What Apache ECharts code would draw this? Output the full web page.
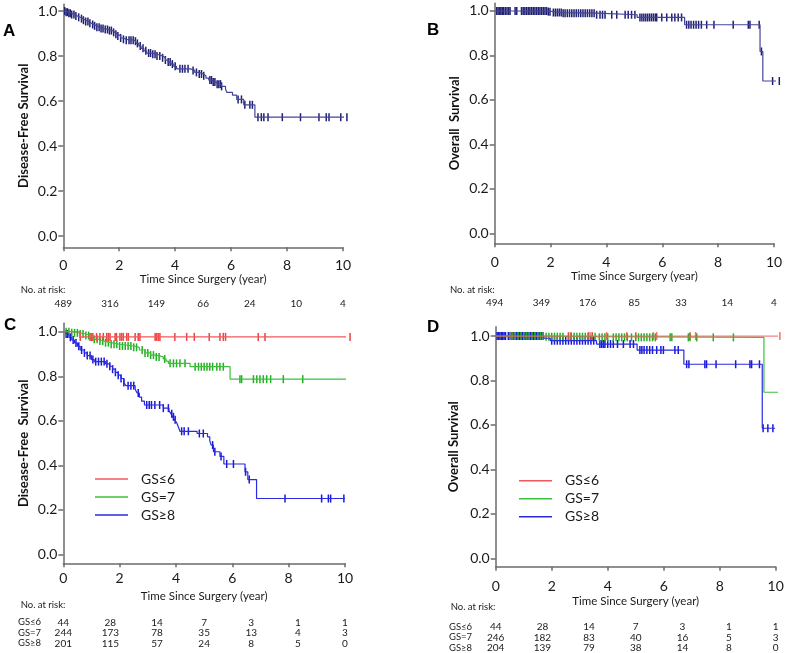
<!DOCTYPE html>
<html><head><meta charset="utf-8">
<script src="https://cdn.jsdelivr.net/npm/echarts@6/dist/echarts.min.js"></script>
<style>html,body{margin:0;padding:0;background:#fff}#c{width:800px;height:653px}</style>
</head><body><div id="c"></div>
<script>
// ---------- data ----------
const xTicks = [0, 2, 4, 6, 8, 10];
const yTicks = [0, 0.2, 0.4, 0.6, 0.8, 1.0];
const atRiskTimes = [0, 1.67, 3.33, 5, 6.67, 8.33, 10];
const groupNames = ['GS≤6', 'GS=7', 'GS≥8'];

// Panel A: Disease-free survival, all patients
const aSteps = [[0,1],[0.1,0.995],[0.2,0.99],[0.3,0.984],[0.4,0.978],[0.5,0.972],[0.6,0.966],[0.7,0.959],[0.8,0.953],[0.9,0.946],[1.0,0.94],[1.1,0.934],[1.2,0.928],[1.3,0.922],[1.45,0.918],[1.6,0.913],[1.75,0.905],[1.85,0.897],[1.95,0.889],[2.05,0.88],[2.15,0.874],[2.25,0.87],[2.55,0.866],[2.62,0.856],[2.7,0.845],[2.78,0.834],[2.88,0.823],[2.98,0.813],[3.15,0.808],[3.35,0.8],[3.55,0.792],[3.65,0.782],[3.75,0.773],[3.85,0.764],[3.95,0.754],[4.05,0.743],[4.55,0.736],[4.7,0.727],[4.85,0.72],[5.0,0.712],[5.1,0.702],[5.2,0.693],[5.35,0.684],[5.5,0.675],[5.65,0.665],[5.8,0.652],[5.85,0.638],[6.05,0.626],[6.2,0.607],[6.45,0.583],[6.85,0.528],[10.8,0.528]];
const aCensor = [0.05,0.1,0.15,0.2,0.25,0.3,0.38,0.45,0.55,0.65,0.72,0.8,0.88,0.95,1.05,1.12,1.2,1.28,1.35,1.42,1.5,1.58,1.65,1.72,1.8,1.88,1.95,2.05,2.15,2.25,2.35,2.42,2.5,2.58,2.65,2.75,2.85,2.95,3.05,3.12,3.2,3.28,3.35,3.45,3.55,3.65,3.75,3.82,3.9,4.0,4.17,4.26,4.35,4.46,4.64,4.76,4.86,4.94,5.02,5.24,5.3,5.36,5.42,5.5,5.56,5.62,5.66,6.25,6.37,6.49,6.67,6.76,6.96,7.08,7.17,7.32,7.83,8.48,9.14,9.4,9.5,9.92,10.14];
const aAtRisk = [489, 316, 149, 66, 24, 10, 4];

// Panel B: Overall survival, all patients
const bSteps = [[0,1],[1.9,0.997],[2.1,0.993],[2.4,0.99],[3.65,0.983],[5.1,0.971],[6.8,0.938],[9.5,0.818],[9.6,0.685],[10.75,0.685]];
const bCensor = [0.07,0.12,0.17,0.22,0.27,0.32,0.38,0.44,0.5,0.55,0.73,0.79,0.96,1.02,1.08,1.14,1.2,1.26,1.32,1.38,1.44,1.5,1.56,1.62,1.68,1.74,1.8,1.86,1.92,1.98,2.1,2.17,2.24,2.31,2.38,2.45,2.52,2.6,2.68,2.76,2.84,2.92,3.0,3.08,3.16,3.24,3.32,3.4,3.48,3.56,3.65,3.77,3.86,3.95,4.19,4.37,4.67,4.78,4.9,5.02,5.2,5.27,5.34,5.41,5.48,5.55,5.62,5.69,5.76,5.8,5.98,6.16,6.34,6.45,6.57,6.69,6.87,6.95,7.03,7.12,7.21,7.3,7.4,7.59,7.85,8.54,9.08,9.14,9.47,9.55,9.95,10.19];
const bAtRisk = [494, 349, 176, 85, 33, 14, 4];

// Panel C: Disease-free survival by Gleason score
const cSteps = [
  [[0,1],[0.6,0.977],[10.24,0.977]],
  [[0,1],[0.3,0.995],[0.6,0.99],[0.8,0.983],[0.95,0.976],[1.1,0.966],[1.25,0.958],[1.45,0.951],[1.7,0.944],[2.0,0.936],[2.5,0.93],[2.7,0.918],[2.9,0.905],[3.1,0.895],[3.3,0.887],[3.55,0.878],[3.65,0.868],[3.73,0.858],[4.5,0.843],[5.92,0.787],[10.77,0.787]],
  [[0,1],[0.1,0.99],[0.2,0.975],[0.3,0.963],[0.4,0.95],[0.5,0.935],[0.6,0.918],[0.75,0.905],[0.85,0.893],[1.0,0.875],[1.1,0.866],[1.5,0.856],[1.65,0.845],[1.75,0.832],[1.85,0.818],[1.95,0.805],[2.05,0.79],[2.15,0.772],[2.22,0.758],[2.55,0.742],[2.62,0.725],[2.7,0.706],[2.78,0.688],[2.88,0.671],[3.55,0.657],[3.75,0.646],[3.82,0.632],[3.88,0.618],[3.95,0.605],[4.02,0.592],[4.08,0.574],[4.14,0.553],[4.75,0.543],[5.12,0.528],[5.2,0.51],[5.25,0.491],[5.33,0.461],[5.56,0.44],[5.7,0.406],[6.45,0.371],[6.55,0.336],[6.86,0.251],[10.0,0.251]]
];
const cCensor = [
  [0.6,0.95,1.05,1.18,1.3,1.42,1.54,1.6,1.66,1.84,1.89,2.01,2.07,2.13,2.25,2.31,2.55,2.66,2.72,3.26,3.31,3.37,3.43,3.96,4.38,4.65,5.18,5.56,5.68,5.76,6.92,7.16,10.18],
  [0.1,0.2,0.3,0.4,0.5,0.6,0.7,0.8,0.9,1.0,1.1,1.2,1.3,1.4,1.5,1.6,1.7,1.8,1.9,2.0,2.1,2.2,2.3,2.4,2.5,2.6,2.8,2.9,3.0,3.1,3.2,3.3,3.4,3.6,3.79,3.91,4.02,4.14,4.32,4.68,4.8,4.9,5.0,5.1,5.2,5.3,5.45,5.56,5.68,6.27,6.33,6.75,6.87,6.98,7.1,7.22,7.36,7.81,8.5],
  [0.1,0.15,0.25,0.35,0.45,0.55,0.65,0.75,0.85,0.95,1.05,1.15,1.25,1.35,1.45,1.55,1.65,1.75,1.85,1.95,2.05,2.15,2.3,2.4,2.5,2.66,2.96,3.05,3.13,3.25,3.42,3.55,3.73,3.85,3.91,3.97,4.2,4.29,4.44,4.83,4.97,5.3,5.38,5.6,5.8,6.04,6.47,6.6,7.87,9.17,9.41,9.49,9.96]
];
const cAtRisk = [[44,28,14,7,3,1,1],[244,173,78,35,13,4,3],[201,115,57,24,8,5,0]];

// Panel D: Overall survival by Gleason score
const dSteps = [
  [[0,1],[10.25,1]],
  [[0,1],[1.8,0.997],[3.6,0.994],[9.58,0.747],[10.81,0.747]],
  [[0,1],[1.72,0.99],[1.95,0.979],[3.6,0.964],[5.05,0.937],[6.72,0.873],[9.52,0.585],[9.98,0.585]]
];
const dCensor = [
  [0.57,2.6,2.68,3.31,3.37,3.45,3.96,4.68,5.0,5.63,5.75,6.94,7.14,10.15],
  [0.5,0.6,0.7,0.8,0.9,1.0,1.1,1.2,1.3,1.4,1.5,1.6,1.7,1.8,1.9,2.0,2.1,2.2,2.3,2.4,2.6,2.7,2.8,2.9,3.0,3.1,3.2,3.3,3.45,3.55,3.7,3.8,3.9,4.0,4.2,4.3,4.4,4.5,4.6,4.7,4.85,5.0,5.1,5.2,5.3,5.4,5.5,5.6,5.7,6.23,6.29,6.88,6.94,7.18,7.77,8.49],
  [0.05,0.1,0.15,0.2,0.25,0.3,0.35,0.45,0.55,0.6,0.65,0.75,0.8,0.85,0.9,0.95,1.0,1.05,1.1,1.15,1.2,1.25,1.3,1.35,1.4,1.45,1.5,1.55,1.6,1.65,2.0,2.1,2.2,2.3,2.4,2.5,2.6,2.7,2.8,2.9,3.0,3.1,3.2,3.3,3.4,3.5,3.72,3.78,3.84,3.9,4.0,4.1,4.2,4.35,4.56,4.8,4.92,5.15,5.22,5.3,5.4,5.5,5.6,5.75,5.9,5.99,6.4,6.52,6.82,6.9,7.47,7.53,7.87,8.57,9.08,9.14,9.42,9.55,9.72,9.9]
];
const dAtRisk = [[44,28,14,7,3,1,1],[246,182,83,40,16,5,3],[204,139,79,38,14,8,0]];

// ---------- styling / layout ----------
const FONT = 'Lato';
const AXIS_COLOR = '#6b6b6b';
const navyLine = '#45459a', navyMark = '#1f1f72';
const groupLine = ['#f05a5a', '#3cc03c', '#2a2ae0'];
const groupMark = ['#f04040', '#22b022', '#1818d8'];

const panels = [
  { grid:{left:63.3, top:4.25, width:279.7, height:243}, yMin:-0.05, yMax:1.03, xLabelMargin:11, xNameGap:26, yNameGap:33, yName:'Disease-Free Survival' },
  { grid:{left:494.7, top:3.2, width:279.3, height:240.1}, yMin:-0.045, yMax:1.035, xLabelMargin:12, xNameGap:27, yNameGap:33, yName:'Overall  Survival' },
  { grid:{left:63.3, top:323.3, width:281.7, height:240}, yMin:-0.04, yMax:1.038, xLabelMargin:8, xNameGap:27, yNameGap:33, yName:'Disease-Free  Survival' },
  { grid:{left:495.7, top:326.7, width:280, height:240}, yMin:-0.038, yMax:1.042, xLabelMargin:13, xNameGap:29, yNameGap:35, yName:'Overall Survival' }
];

function stepValue(steps, t) {
  let v = steps[0][1];
  for (const p of steps) { if (p[0] <= t + 1e-9) v = p[1]; else break; }
  return v;
}

const grids = [], xAxes = [], yAxes = [], series = [];
panels.forEach((p, i) => {
  grids.push(Object.assign({containLabel:false}, p.grid));
  xAxes.push({
    type:'value', gridIndex:i, min:0, max:10, interval:2,
    axisLine:{show:true, onZero:false, lineStyle:{color:AXIS_COLOR, width:1.5}},
    axisTick:{show:true, length:4, lineStyle:{color:AXIS_COLOR, width:1.5}},
    axisLabel:{margin:p.xLabelMargin, fontSize:14, fontFamily:FONT, color:'#1a1a1a'},
    splitLine:{show:false},
    name:'Time Since Surgery (year)', nameLocation:'middle', nameGap:p.xNameGap,
    nameTextStyle:{fontSize:11.5, fontFamily:FONT, color:'#1a1a1a'}
  });
  yAxes.push({
    type:'value', gridIndex:i, min:p.yMin, max:p.yMax,
    axisLine:{show:true, onZero:false, lineStyle:{color:AXIS_COLOR, width:1.5}},
    axisTick:{show:true, length:5, customValues:yTicks, lineStyle:{color:AXIS_COLOR, width:1.5}},
    axisLabel:{margin:6, fontSize:14, fontFamily:FONT, color:'#1a1a1a', customValues:yTicks, formatter:v => Number(v).toFixed(1)},
    splitLine:{show:false},
    name:p.yName, nameLocation:'middle', nameGap:p.yNameGap,
    nameTextStyle:{fontSize:13, fontWeight:'bold', fontFamily:FONT, color:'#111'}
  });
});

function addCurve(idx, name, steps, censor, lineColor, markColor, opacity) {
  series.push({
    type:'line', name:name, xAxisIndex:idx, yAxisIndex:idx, data:steps, step:'end',
    showSymbol:false, symbol:'none', clip:false, silent:true, color:lineColor,
    lineStyle:{width:1.2, color:lineColor, opacity:opacity}, itemStyle:{color:lineColor}
  });
  series.push({
    type:'scatter', name:name + ' censored', xAxisIndex:idx, yAxisIndex:idx,
    data:censor.map(t => [t, stepValue(steps, t)]), symbol:'rect', symbolSize:[1.5, 8],
    clip:false, silent:true, itemStyle:{color:markColor, opacity:opacity}
  });
}

addCurve(0, 'All DFS', aSteps, aCensor, navyLine, navyMark, 1);
addCurve(1, 'All OS', bSteps, bCensor, navyLine, navyMark, 1);
[2, 1, 0].forEach(g => addCurve(2, groupNames[g], cSteps[g], cCensor[g], groupLine[g], groupMark[g], 1));
[2, 1, 0].forEach(g => addCurve(3, groupNames[g], dSteps[g], dCensor[g], groupLine[g], groupMark[g], g === 0 ? 0.75 : 1));

function legendAt(left, top) {
  return {
    orient:'vertical', left:left, top:top, data:groupNames, icon:'rect',
    itemWidth:33, itemHeight:1.5, itemGap:2, selectedMode:false,
    textStyle:{fontSize:14, fontFamily:FONT, color:'#1a1a1a', lineHeight:16, padding:[0,0,0,8]}
  };
}

const chart = echarts.init(document.getElementById('c'), null, {renderer:'canvas'});
chart.setOption({
  animation:false, backgroundColor:'#ffffff',
  grid:grids, xAxis:xAxes, yAxis:yAxes, series:series,
  legend:[legendAt(90, 466), legendAt(514, 467.7)]
});

// ---------- text: panel letters and numbers at risk ----------
const txt = (x, y, text, o) => Object.assign({
  type:'text', x:x, y:y, silent:true,
  style:Object.assign({text:text, fill:'#1a1a1a', fontFamily:FONT, fontSize:10, textAlign:'left', textVerticalAlign:'middle', align:'left', verticalAlign:'middle'}, o || {})
});
const center = {textAlign:'center', align:'center'};
const graphics = [];
const letterStyle = {fontFamily:'Liberation Sans', fontWeight:'bold', fontSize:17, fill:'#000'};
graphics.push(txt(3, 31, 'A', letterStyle));
graphics.push(txt(427, 30, 'B', letterStyle));
graphics.push(txt(4, 325, 'C', letterStyle));
graphics.push(txt(427, 327, 'D', letterStyle));

const riskBlocks = [
  {panel:0, labelX:20.7, headY:290, rowsY:[304], rows:[aAtRisk], names:null},
  {panel:1, labelX:450, headY:290, rowsY:[302.3], rows:[bAtRisk], names:null},
  {panel:2, labelX:20.7, headY:605, rowsY:[622.3, 632.7, 643.3], rows:cAtRisk, names:groupNames, nameX:18},
  {panel:3, labelX:450.7, headY:606.7, rowsY:[626.7, 637.3, 647.7], rows:dAtRisk, names:groupNames, nameX:449}
];
riskBlocks.forEach(b => {
  graphics.push(txt(b.labelX, b.headY, 'No. at risk:', {fontSize:9.5}));
  b.rows.forEach((row, r) => {
    if (b.names) graphics.push(txt(b.nameX, b.rowsY[r], b.names[r], {fontSize:9.5}));
    row.forEach((n, j) => {
      const px = chart.convertToPixel({xAxisIndex:b.panel}, atRiskTimes[j]);
      graphics.push(txt(px, b.rowsY[r], String(n), Object.assign({fontSize:10}, center)));
    });
  });
});
chart.setOption({graphic:{elements:graphics}});
</script></body></html>
